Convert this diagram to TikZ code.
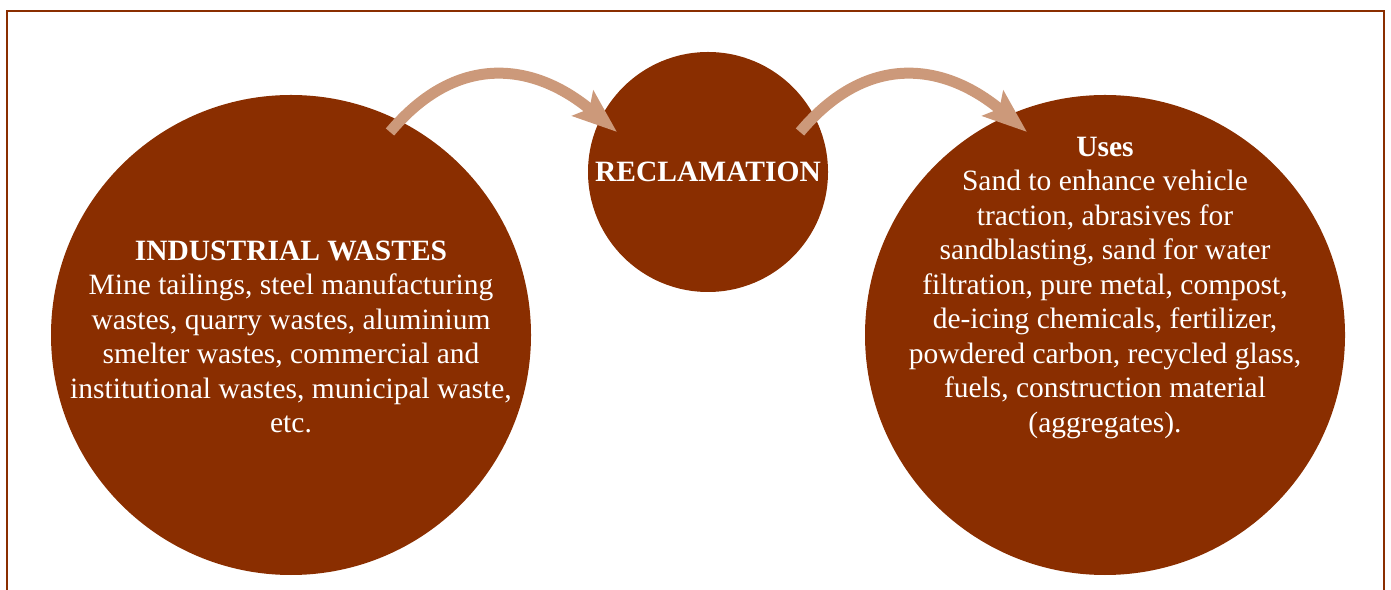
\documentclass[tikz,border=0pt]{standalone}
\usepackage{fontspec}
\setmainfont{Liberation Serif}
\usepackage{xcolor}
\usetikzlibrary{arrows.meta}
\definecolor{rcbrown}{HTML}{8A2E00}
\definecolor{rctan}{HTML}{CC997A}

\begin{document}
\begin{tikzpicture}[x=1pt, y=1pt,
    blob/.style={circle, fill=rcbrown, inner sep=0pt},
    txt/.style={text=white, align=center, inner sep=0pt, font=\fontsize{29.5}{34.5}\selectfont},
    flow/.style={draw=rctan, line width=11pt, -{Stealth[length=44pt, width=32pt, inset=8pt]}, out=50, in=140, looseness=1.2}]
  \useasboundingbox (0,0) rectangle (1391,589);
  \draw[rcbrown, line width=2.5pt] (7,-5) -- (7,578) -- (1384,578) -- (1384,-5);
  % circles
  \node[blob, minimum size=480pt] (waste) at (291,254) {};
  \node[blob, minimum size=240pt] (recl) at (708,417) {};
  \node[blob, minimum size=480pt] (uses) at (1105,254) {};
  % texts
  \node[txt] (wastetxt) at ([yshift=-2pt]waste.center) {\textbf{INDUSTRIAL WASTES}\\Mine tailings, steel manufacturing\\wastes, quarry wastes, aluminium\\smelter wastes, commercial and\\institutional wastes, municipal waste,\\etc.};
  \node[txt] (recltxt) at (recl.center) {\textbf{RECLAMATION}};
  \node[txt] (usestxt) at ([yshift=47pt]uses.center) {\textbf{Uses}\\Sand to enhance vehicle\\traction, abrasives for\\sandblasting, sand for water\\filtration, pure metal, compost,\\de-icing chemicals, fertilizer,\\powdered carbon, recycled glass,\\fuels, construction material\\(aggregates).};
  % arrows
  \draw[flow] ([shift={(99,203)}]waste.center) to ([shift={(-91,40)}]recl.center);
  \draw[flow] ([shift={(92,40)}]recl.center) to ([shift={(-78,203)}]uses.center);
\end{tikzpicture}
\end{document}
